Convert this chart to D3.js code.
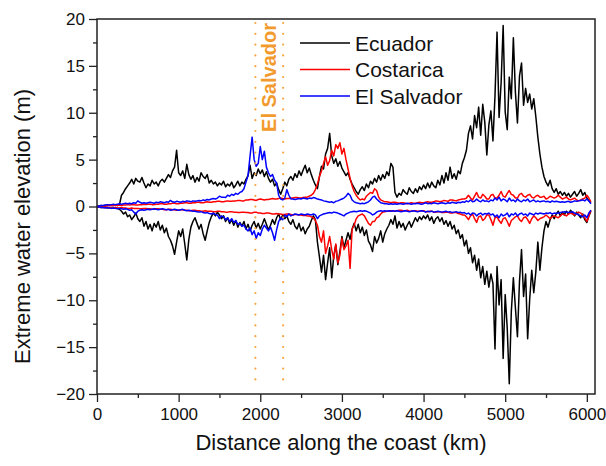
<!DOCTYPE html>
<html>
<head>
<meta charset="utf-8">
<script src="https://cdn.jsdelivr.net/npm/d3@7"></script>
<style>
  body { margin: 0; background: #fff; }
  svg { display: block; }
  text { font-family: "Liberation Sans", Arial, Helvetica, sans-serif; }
</style>
</head>
<body>
<svg id="chart" width="606" height="466"></svg>
<script>
// Sampling interval along the coast (km)
const stepKm = 25;

// Maximum / minimum extreme water elevation (m) for each source, every 25 km from 0 to 6050 km
const ecuadorMax = [
  0.0,0.05,0.1,0.05,0.1,0.1,0.15,0.1,0.1,0.15,0.1,0.2,
  1.2,1.5,1.9,2.2,2.5,2.9,2.4,3.0,2.7,2.6,3.1,2.5,
  2.0,2.4,2.2,2.8,2.4,2.6,2.2,2.7,2.9,2.6,3.0,3.4,
  3.1,3.8,4.2,6.0,3.6,3.3,3.8,3.0,4.5,3.4,2.9,3.3,
  2.6,3.1,2.7,3.6,3.2,3.0,3.4,2.5,2.8,2.4,2.6,2.2,
  2.5,2.3,2.7,2.1,2.4,2.2,2.6,2.0,2.3,2.7,2.2,2.6,
  2.4,2.9,3.3,4.4,3.0,3.6,3.3,4.0,3.5,3.9,3.2,3.7,
  3.0,2.6,2.9,2.2,2.5,1.8,1.3,1.9,2.6,2.2,2.9,3.2,
  2.8,3.5,3.1,3.8,3.3,3.9,4.4,3.6,4.1,3.4,2.8,2.3,
  1.9,3.2,4.3,4.0,5.6,6.2,7.8,5.4,4.6,5.1,4.3,4.8,
  4.1,3.7,3.3,3.6,2.9,2.4,2.0,1.6,1.3,1.8,2.1,1.7,
  2.4,2.0,2.7,2.4,3.0,2.6,3.3,2.8,3.4,3.0,3.7,3.3,
  4.6,4.2,1.5,1.0,1.4,1.2,1.8,1.5,1.3,2.0,1.6,1.4,
  1.9,1.5,2.1,1.8,2.3,1.9,2.5,2.0,2.6,2.2,2.0,2.8,
  2.3,3.3,2.5,3.6,2.8,4.2,3.0,3.5,2.9,3.8,3.5,4.6,
  5.2,6.0,7.8,8.6,7.2,9.7,8.4,10.6,7.6,10.9,9.0,5.5,
  8.7,10.2,7.0,11.8,18.6,9.5,13.2,19.3,10.1,8.2,13.8,11.5,
  18.0,12.2,8.9,13.9,15.3,10.8,12.6,11.1,12.0,10.4,11.5,9.6,
  7.4,5.6,4.2,3.2,2.6,2.2,2.8,1.9,1.5,1.9,1.3,1.6,
  1.2,1.5,1.1,1.4,1.0,1.3,1.6,1.1,1.4,1.8,1.2,1.5,
  0.9,0.6,0.4
];
const ecuadorMin = [
  0.0,-0.05,-0.1,-0.1,-0.05,-0.15,-0.1,-0.2,-0.15,-0.1,-0.2,-0.3,
  -0.5,-0.8,-0.6,-1.1,-0.9,-1.4,-1.1,-0.7,-1.3,-1.6,-1.2,-2.1,
  -1.6,-2.4,-1.9,-2.6,-1.8,-2.2,-1.6,-2.5,-2.0,-2.8,-2.3,-3.2,
  -3.6,-4.2,-5.1,-3.8,-2.6,-3.2,-2.4,-4.0,-5.7,-3.5,-2.2,-1.6,
  -1.2,-1.8,-2.4,-1.9,-2.9,-3.6,-2.6,-1.7,-1.1,-0.7,-1.0,-0.6,
  -0.9,-1.3,-1.0,-1.6,-1.2,-1.8,-1.4,-2.0,-1.5,-2.2,-1.7,-2.1,
  -1.6,-2.4,-1.9,-2.6,-2.0,-1.6,-2.3,-1.8,-2.4,-1.9,-1.3,-1.9,
  -2.5,-2.0,-1.4,-1.9,-1.2,-0.8,-1.4,-0.9,-1.3,-1.0,-1.6,-1.9,
  -1.4,-2.1,-2.4,-1.8,-2.6,-2.2,-2.9,-2.4,-2.1,-1.5,-1.0,-1.4,
  -3.8,-5.4,-7.0,-5.2,-7.8,-6.0,-4.4,-7.6,-5.3,-4.1,-6.2,-4.8,
  -3.2,-4.4,-3.6,-2.8,-3.5,-2.4,-1.8,-2.6,-1.9,-2.8,-2.2,-3.1,
  -2.5,-3.7,-4.1,-4.8,-3.2,-3.9,-3.4,-2.6,-3.8,-2.9,-2.4,-2.0,
  -1.4,-1.9,-1.0,-2.3,-1.6,-2.2,-1.8,-2.5,-2.0,-1.6,-2.2,-1.7,
  -1.2,-1.6,-1.1,-1.4,-1.0,-1.3,-0.9,-1.5,-1.1,-1.8,-1.3,-1.1,
  -1.6,-1.2,-1.9,-1.5,-2.1,-1.6,-2.4,-2.0,-2.9,-2.5,-3.4,-3.0,
  -4.2,-3.6,-5.0,-4.4,-6.0,-5.2,-6.8,-5.6,-7.6,-6.4,-8.3,-6.9,
  -8.6,-7.2,-8.2,-15.2,-6.4,-10.5,-7.8,-16.2,-9.4,-13.0,-18.9,-11.2,
  -7.6,-10.8,-13.9,-8.0,-4.6,-9.6,-7.2,-14.1,-9.9,-6.8,-9.2,-7.0,
  -3.8,-6.8,-4.4,-2.6,-1.6,-2.2,-1.4,-0.9,-1.3,-0.8,-0.5,-1.0,
  -0.6,-0.9,-0.5,-0.8,-0.4,-0.7,-1.0,-0.6,-0.9,-1.2,-0.8,-1.4,
  -1.7,-1.0,-0.5
];
const costaricaMax = [
  0.0,0.0,0.05,0.05,0.05,0.1,0.1,0.1,0.1,0.15,0.1,0.15,
  0.1,0.15,0.15,0.2,0.15,0.2,0.2,0.15,0.15,0.2,0.2,0.25,
  0.2,0.25,0.25,0.2,0.2,0.25,0.25,0.3,0.3,0.25,0.25,0.3,
  0.3,0.35,0.35,0.3,0.3,0.35,0.35,0.4,0.4,0.35,0.35,0.4,
  0.4,0.45,0.45,0.4,0.4,0.45,0.5,0.45,0.45,0.5,0.5,0.55,
  0.55,0.5,0.5,0.55,0.6,0.55,0.55,0.6,0.6,0.65,0.65,0.6,
  0.6,0.7,0.7,0.75,0.75,0.7,0.65,0.75,0.8,0.75,0.7,0.75,
  0.75,0.8,0.85,0.8,0.8,0.85,0.9,0.85,0.8,0.85,0.85,0.9,
  0.9,0.95,0.95,0.9,0.9,0.95,1.0,1.0,1.1,1.2,1.4,1.8,
  2.4,3.2,3.8,4.6,5.3,4.4,4.9,6.0,5.4,6.6,6.2,6.8,
  5.6,6.2,5.0,4.0,3.0,2.2,1.6,1.2,0.9,0.7,0.8,0.7,
  1.1,1.3,1.5,1.4,1.9,1.7,1.0,0.7,0.6,0.5,0.5,0.45,
  0.4,0.45,0.45,0.4,0.35,0.4,0.4,0.35,0.3,0.35,0.4,0.35,
  0.35,0.4,0.45,0.4,0.4,0.45,0.5,0.45,0.45,0.5,0.6,0.55,
  0.5,0.55,0.65,0.6,0.55,0.7,0.7,0.65,0.6,0.7,0.75,0.8,
  0.8,0.9,1.2,0.9,0.7,1.1,1.5,1.0,0.9,1.3,1.1,0.8,
  0.8,1.2,1.3,0.9,0.9,1.2,1.6,1.1,1.0,1.4,1.7,1.3,
  1.2,0.9,0.9,1.3,1.4,1.1,1.0,1.2,1.3,1.0,0.9,1.1,
  1.2,1.0,1.0,1.1,0.8,0.9,1.1,1.0,0.9,1.0,1.2,1.0,
  0.8,0.9,1.0,0.8,0.7,0.8,0.9,0.7,0.6,0.7,0.8,0.9,
  1.2,0.9,0.5
];
const costaricaMin = [
  0.0,-0.05,-0.05,-0.05,-0.1,-0.1,-0.1,-0.15,-0.15,-0.1,-0.15,-0.15,
  -0.1,-0.15,-0.15,-0.2,-0.2,-0.15,-0.2,-0.2,-0.2,-0.25,-0.25,-0.2,
  -0.2,-0.25,-0.25,-0.3,-0.3,-0.25,-0.25,-0.3,-0.3,-0.35,-0.35,-0.3,
  -0.3,-0.35,-0.35,-0.4,-0.4,-0.35,-0.35,-0.4,-0.4,-0.45,-0.45,-0.4,
  -0.4,-0.45,-0.45,-0.5,-0.5,-0.45,-0.5,-0.5,-0.5,-0.55,-0.55,-0.5,
  -0.5,-0.55,-0.55,-0.6,-0.6,-0.55,-0.55,-0.6,-0.6,-0.65,-0.65,-0.6,
  -0.6,-0.65,-0.65,-0.7,-0.7,-0.6,-0.6,-0.7,-0.7,-0.75,-0.75,-0.7,
  -0.7,-0.75,-0.8,-0.8,-0.75,-0.8,-0.8,-0.85,-0.85,-0.8,-0.8,-0.85,
  -0.9,-0.85,-0.85,-0.9,-0.9,-0.95,-0.95,-1.0,-1.0,-1.1,-1.2,-1.5,
  -2.0,-3.2,-3.8,-2.6,-5.0,-4.2,-3.2,-4.6,-5.6,-4.0,-6.0,-5.2,
  -3.4,-4.6,-4.2,-3.6,-6.6,-2.4,-2.0,-1.3,-1.0,-0.9,-0.8,-1.0,
  -1.4,-1.8,-2.0,-1.6,-1.6,-1.2,-1.1,-0.8,-0.6,-0.55,-0.5,-0.5,
  -0.45,-0.5,-0.5,-0.45,-0.4,-0.4,-0.45,-0.45,-0.4,-0.5,-0.5,-0.45,
  -0.45,-0.5,-0.5,-0.45,-0.45,-0.55,-0.55,-0.5,-0.5,-0.6,-0.6,-0.55,
  -0.55,-0.65,-0.65,-0.6,-0.6,-0.7,-0.7,-0.65,-0.65,-0.75,-0.8,-0.9,
  -0.9,-1.1,-1.4,-1.0,-0.8,-1.3,-1.7,-1.1,-1.0,-1.5,-1.3,-0.9,
  -0.9,-1.4,-2.0,-1.2,-1.1,-1.5,-1.8,-1.3,-1.2,-1.6,-2.1,-1.5,
  -1.3,-1.1,-1.0,-1.4,-1.6,-1.2,-1.1,-1.4,-1.8,-1.3,-1.0,-1.2,
  -1.5,-1.3,-1.2,-1.1,-0.9,-1.1,-1.3,-1.1,-1.0,-1.1,-1.2,-1.0,
  -0.8,-0.9,-1.0,-0.8,-0.7,-0.8,-0.9,-0.7,-0.6,-0.7,-0.9,-1.2,
  -1.6,-1.0,-0.4
];
const elSalvadorMax = [
  0.0,0.05,0.1,0.1,0.15,0.2,0.15,0.2,0.25,0.2,0.25,0.3,
  0.25,0.3,0.35,0.3,0.35,0.3,0.4,0.35,0.6,0.45,0.35,0.4,
  0.35,0.4,0.45,0.4,0.35,0.45,0.4,0.5,0.45,0.4,0.5,0.45,
  0.65,0.5,0.45,0.55,0.5,0.45,0.55,0.5,0.6,0.55,0.5,0.6,
  0.55,0.6,0.65,0.6,0.7,0.65,0.75,0.7,0.8,0.85,0.8,0.9,
  1.1,1.0,1.0,0.95,1.2,1.1,1.3,1.2,1.4,1.3,1.5,1.6,
  1.9,2.6,3.3,5.4,7.4,5.0,4.3,4.6,6.4,5.0,5.9,4.2,
  3.6,3.2,3.4,2.8,2.5,1.2,0.8,0.7,0.9,1.8,1.2,0.8,
  0.8,0.75,0.8,0.85,0.8,0.9,0.85,0.8,0.9,0.85,0.95,0.9,
  0.8,0.75,0.7,0.6,0.55,0.5,0.45,0.5,0.4,0.55,0.6,0.7,
  0.8,0.9,1.1,1.4,1.2,0.7,0.5,0.4,0.35,0.3,0.35,0.3,
  0.4,0.5,0.7,1.0,1.1,0.8,0.6,0.4,0.35,0.3,0.3,0.25,
  0.3,0.25,0.3,0.25,0.3,0.3,0.25,0.3,0.35,0.3,0.25,0.3,
  0.3,0.35,0.3,0.25,0.3,0.4,0.3,0.35,0.3,0.4,0.35,0.3,
  0.35,0.4,0.35,0.3,0.4,0.35,0.45,0.4,0.35,0.45,0.4,0.5,
  0.45,0.6,0.5,0.7,0.5,0.55,0.8,0.6,0.5,0.7,0.55,0.6,
  0.5,0.7,0.6,0.9,0.7,1.0,0.6,0.8,0.7,0.5,0.9,0.6,
  0.7,0.5,0.8,0.6,0.5,0.7,0.6,0.8,0.5,0.6,0.7,0.5,
  0.6,0.5,0.55,0.6,0.5,0.55,0.45,0.6,0.5,0.55,0.5,0.45,
  0.5,0.45,0.5,0.55,0.45,0.5,0.6,0.55,0.6,0.65,0.7,0.6,
  0.8,0.6,0.3
];
const elSalvadorMin = [
  0.0,-0.05,-0.1,-0.1,-0.15,-0.1,-0.15,-0.2,-0.15,-0.2,-0.25,-0.2,
  -0.25,-0.3,-0.25,-0.3,-0.4,-0.35,-0.6,-0.8,-0.5,-0.4,-0.35,-0.4,
  -0.35,-0.3,-0.35,-0.3,-0.25,-0.3,-0.35,-0.3,-0.25,-0.3,-0.35,-0.3,
  -0.4,-0.35,-0.3,-0.35,-0.4,-0.35,-0.3,-0.4,-0.45,-0.4,-0.45,-0.5,
  -0.5,-0.55,-0.6,-0.55,-0.65,-0.7,-0.65,-0.75,-0.8,-0.7,-0.85,-0.9,
  -1.3,-1.0,-1.1,-1.4,-1.2,-1.6,-1.3,-1.7,-1.5,-1.9,-1.8,-2.1,
  -2.0,-2.4,-2.6,-2.3,-3.0,-2.6,-3.4,-2.8,-3.1,-2.4,-2.0,-2.3,
  -2.6,-2.2,-2.8,-3.6,-2.5,-1.6,-1.2,-1.4,-0.9,-1.1,-0.8,-1.0,
  -0.9,-0.8,-0.85,-0.9,-0.8,-0.85,-0.9,-0.8,-0.85,-0.9,-0.8,-0.9,
  -1.3,-1.0,-0.9,-0.8,-0.75,-0.7,-0.65,-0.7,-0.6,-0.65,-0.7,-0.8,
  -0.9,-1.0,-0.8,-0.7,-0.6,-0.55,-0.5,-0.55,-0.5,-0.45,-0.5,-0.45,
  -0.5,-0.6,-0.7,-0.9,-0.8,-0.6,-0.5,-0.45,-0.5,-0.45,-0.5,-0.45,
  -0.5,-0.45,-0.5,-0.45,-0.5,-0.55,-0.5,-0.45,-0.5,-0.55,-0.5,-0.45,
  -0.5,-0.55,-0.5,-0.45,-0.5,-0.6,-0.5,-0.55,-0.5,-0.6,-0.55,-0.5,
  -0.55,-0.6,-0.55,-0.5,-0.6,-0.55,-0.65,-0.6,-0.55,-0.65,-0.6,-0.7,
  -0.65,-0.8,-0.7,-0.9,-0.7,-0.75,-1.0,-0.8,-0.7,-0.9,-0.75,-0.8,
  -0.7,-0.9,-0.8,-1.1,-0.9,-1.2,-0.8,-1.0,-0.9,-0.7,-1.1,-0.8,
  -0.9,-0.7,-1.0,-0.8,-0.7,-0.9,-0.8,-1.0,-0.7,-0.8,-0.9,-0.7,
  -0.8,-0.7,-0.75,-0.8,-0.7,-0.75,-0.65,-0.8,-0.7,-0.75,-0.7,-0.65,
  -0.6,-0.55,-0.6,-0.65,-0.6,-0.55,-0.7,-0.8,-0.9,-1.0,-1.1,-0.9,
  -1.2,-0.7,-0.4
];

// Legend entries and colours
const seriesNames = ["Ecuador", "Costarica", "El Salvador"];
const seriesColors = ["#000000", "#ff0000", "#0000ff"];
const seriesData = [
  [ecuadorMax, ecuadorMin],
  [costaricaMax, costaricaMin],
  [elSalvadorMax, elSalvadorMin]
];

// Axis ticks
const xTicks = [0, 1000, 2000, 3000, 4000, 5000, 6000];
const xMinorTicks = [500, 1500, 2500, 3500, 4500, 5500];
const yTicks = [-20, -15, -10, -5, 0, 5, 10, 15, 20];
const yMinorTicks = [-17.5, -12.5, -7.5, -2.5, 2.5, 7.5, 12.5, 17.5];

// El Salvador coastal segment bounds (km)
const segmentBounds = [1940, 2280];
const segmentLabel = "El Salvador";

const svg = d3.select("#chart");
const plotLeft = 97, plotRight = 595, plotTop = 19, plotBottom = 394;

const x = d3.scaleLinear().domain([0, 6100]).range([plotLeft, plotRight]);
const y = d3.scaleLinear().domain([-20, 20]).range([plotBottom, plotTop]);

const distance = ecuadorMax.map((_, i) => i * stepKm);

// Data lines
const line = d3.line()
  .x((d, i) => x(distance[i]))
  .y(d => y(d));

const plot = svg.append("g");
seriesData.forEach((pair, s) => {
  pair.forEach(vals => {
    plot.append("path")
      .attr("d", line(vals))
      .attr("fill", "none")
      .attr("stroke", seriesColors[s])
      .attr("stroke-width", 1.5)
      .attr("stroke-linejoin", "round");
  });
});

// Segment boundaries
svg.append("g").selectAll("line").data(segmentBounds).join("line")
  .attr("x1", d => x(d)).attr("x2", d => x(d))
  .attr("y1", plotTop + 4).attr("y2", plotBottom - 4)
  .attr("stroke", "#f5a540")
  .attr("stroke-width", 2.2)
  .attr("stroke-linecap", "round")
  .attr("stroke-dasharray", "0 10.8");

svg.append("text")
  .attr("transform", `translate(${(x(segmentBounds[0]) + x(segmentBounds[1])) / 2 + 7},${plotTop + 4}) rotate(-90)`)
  .attr("text-anchor", "end")
  .attr("font-size", 20)
  .attr("font-weight", "bold")
  .attr("fill", "#f39a2e")
  .text(segmentLabel);

// Axes
const yAxis = d3.axisLeft(y).tickValues(yTicks).tickSize(8).tickPadding(4).tickFormat(d3.format("d"));
const yMinor = d3.axisLeft(y).tickValues(yMinorTicks).tickSize(4).tickFormat("");
const xAxis = d3.axisBottom(x).tickValues(xTicks).tickSize(8).tickPadding(6).tickFormat(d3.format("d"));
const xMinor = d3.axisBottom(x).tickValues(xMinorTicks).tickSize(4).tickFormat("");

function styleAxis(g) {
  g.select(".domain").remove();
  g.selectAll(".tick line").attr("stroke", "#222").attr("stroke-width", 1.3);
  g.selectAll(".tick text")
    .attr("font-size", 17)
    .attr("fill", "#111")
    .style("font-family", '"Liberation Sans", Arial, sans-serif');
}

svg.append("g").attr("transform", `translate(${plotLeft},0)`).call(yAxis).call(styleAxis);
svg.append("g").attr("transform", `translate(${plotLeft},0)`).call(yMinor).call(styleAxis);
svg.append("g").attr("transform", `translate(0,${plotBottom})`).call(xAxis).call(styleAxis);
svg.append("g").attr("transform", `translate(0,${plotBottom})`).call(xMinor).call(styleAxis);

// Frame
svg.append("rect")
  .attr("x", plotLeft).attr("y", plotTop)
  .attr("width", plotRight - plotLeft).attr("height", plotBottom - plotTop)
  .attr("fill", "none")
  .attr("stroke", "#222")
  .attr("stroke-width", 1.5);

// Axis titles
svg.append("text")
  .attr("x", (plotLeft + plotRight) / 2 - 5)
  .attr("y", 450)
  .attr("text-anchor", "middle")
  .attr("font-size", 22)
  .attr("fill", "#111")
  .text("Distance along the coast (km)");

svg.append("text")
  .attr("transform", `translate(30,${(plotTop + plotBottom) / 2 + 20}) rotate(-90)`)
  .attr("text-anchor", "middle")
  .attr("font-size", 22)
  .attr("fill", "#111")
  .text("Extreme water elevation (m)");

// Legend
const legend = svg.append("g");
seriesNames.forEach((name, i) => {
  const cy = 43 + i * 26.5;
  legend.append("line")
    .attr("x1", 300).attr("x2", 350)
    .attr("y1", cy).attr("y2", cy)
    .attr("stroke", seriesColors[i])
    .attr("stroke-width", 1.5);
  legend.append("text")
    .attr("x", 355).attr("y", cy + 7.5)
    .attr("font-size", 21)
    .attr("fill", "#111")
    .text(name);
});
</script>
</body>
</html>
